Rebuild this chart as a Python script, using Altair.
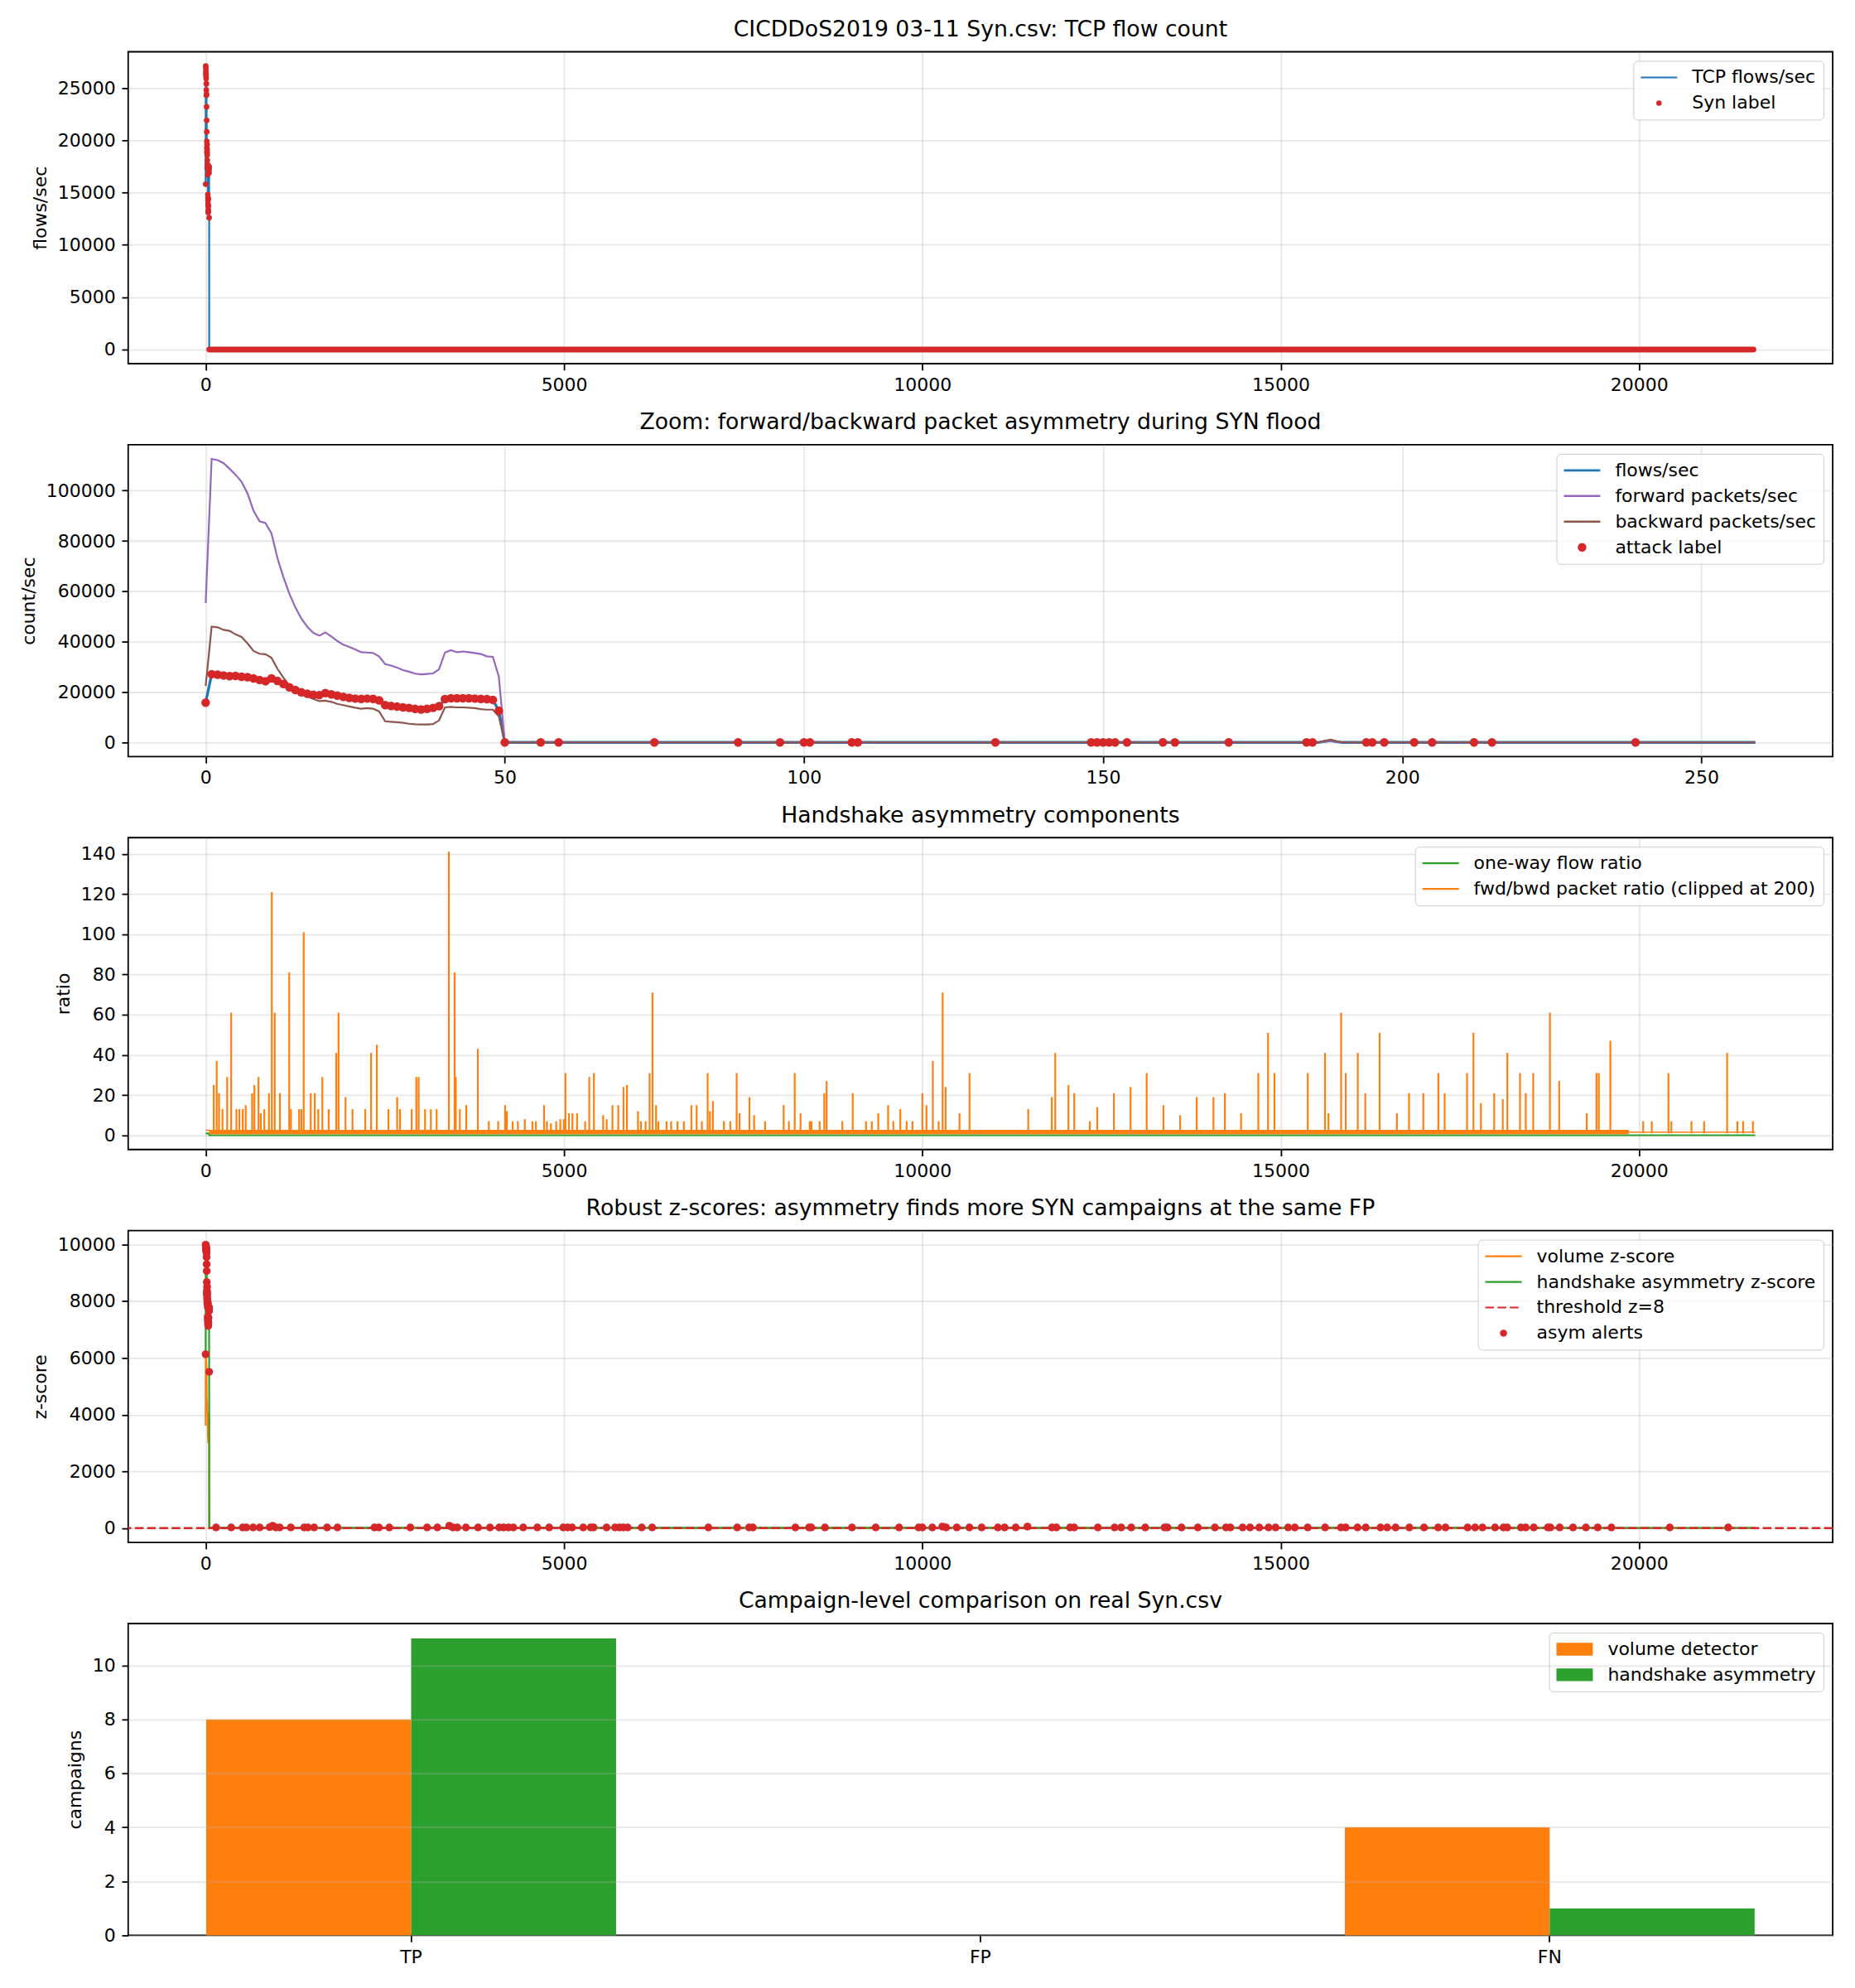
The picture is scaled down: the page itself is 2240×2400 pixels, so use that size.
import altair as alt
import pandas as pd

FONT = "DejaVu Sans"
W, H = 2061, 377
BLUE, ORANGE, GREEN, RED, PURPLE, BROWN = "#1f77b4", "#ff7f0e", "#2ca02c", "#d62728", "#9467bd", "#8c564b"

# ---------------- data ----------------
flood_t = list(range(51))  # seconds 0..50 of the SYN flood
flows = [15800, 27100, 26900, 26600, 26300, 26400, 26100, 25900, 25400, 24800, 24300, 25400, 24400,
         23200, 21900, 20800, 19900, 19300, 18900, 18800, 19600, 19100, 18600, 18100, 17700, 17400,
         17300, 17400, 17300, 16700, 14800, 14500, 14200, 13900, 13700, 13300, 13100, 13300, 13700,
         14400, 17200, 17500, 17500, 17500, 17500, 17400, 17300, 17200, 16900, 12600, 0]
fwd = [55400, 112600, 112100, 110900, 108700, 106300, 103500, 98900, 92000, 87800, 87100, 83000, 73200,
       65600, 59000, 53600, 49100, 45900, 43500, 42400, 43700, 42100, 40300, 38800, 37900, 36900,
       35800, 35700, 35500, 34100, 31100, 30500, 29700, 28700, 28100, 27300, 27000, 27200, 27400,
       29000, 35700, 36600, 35800, 36100, 35800, 35500, 35100, 34200, 34000, 26200, 0]
bwd = [22400, 46000, 45700, 44700, 44300, 42900, 41900, 39300, 36300, 35200, 35000, 33600, 29200,
       25700, 22600, 20200, 19100, 18300, 17300, 16400, 16600, 16100, 15300, 14800, 14300, 13800,
       13400, 13600, 13400, 12300, 8400, 8200, 8000, 7800, 7400, 7200, 7100, 7100, 7300, 8700,
       13900, 14100, 13900, 13900, 13800, 13600, 13200, 13000, 13000, 10400, 0]

# panel 1 tail (after the flood) and the dense Syn-label band
p1_tail_t = [21620]
p1_tail_v = [0]
band_start = [50]
band_end = [21595]
band_v = [0]

# panel 2 tail (zoom window)
zoom_tail_t = [51, 186, 187, 188, 189, 190, 259]
flows_tail = [0, 0, 400, 700, 300, 0, 0]
fwd_tail = [0, 0, 300, 600, 300, 0, 0]
bwd_tail = [0, 0, 600, 1100, 500, 0, 0]
attack_extra_t = [50, 56, 59, 75, 89, 96, 100, 101, 108, 109, 132, 148, 149, 150, 151, 152, 154, 160,
                  162, 171, 184, 185, 194, 195, 197, 202, 205, 212, 215, 239]
attack_extra_v = [0, 0, 0, 0, 0, 0, 0, 0, 0, 0, 0, 0, 0, 0, 0, 0, 0, 0,
                  0, 0, 0, 0, 0, 0, 0, 0, 0, 0, 0, 0]

# panel 3
oneway_t = [0, 49, 50, 21620]
oneway_v = [0.9, 0.9, 0.05, 0.05]
base_t = [0, 49, 50, 19850, 19860, 21620]
base_lo = [2.2, 2.2, 0.6, 0.6, 1.3, 1.3]
base_hi = [2.8, 2.8, 2.7, 2.7, 1.9, 1.9]
spike_t = [113, 154, 186, 235, 300, 356, 429, 470, 518, 559, 648, 680, 737, 769, 818, 883, 923, 964,
           1036, 1166, 1190, 1304, 1336, 1368, 1466, 1522, 1571, 1628, 1717, 1822, 1854, 1951, 2049,
           2227, 2308, 2389, 2550, 2672, 2712, 2874, 2939, 2972, 3061, 3142, 3223, 3393, 3474, 3490,
           3547, 3636, 3797, 3951, 4081, 4178, 4202, 4283, 4356, 4453, 4559, 4607, 4721, 4761, 4818,
           4891, 4948, 4996, 5020, 5069, 5117, 5182, 5295, 5352, 5417, 5546, 5595, 5676, 5757, 5830,
           5878, 6032, 6073, 6138, 6194, 6235, 6284, 6316, 6430, 6494, 6583, 6672, 6777, 6850, 6923,
           7004, 7036, 7077, 7231, 7320, 7409, 7449, 7587, 7652, 7806, 8065, 8138, 8219, 8300, 8429,
           8453, 8567, 8631, 8664, 8883, 9028, 9214, 9295, 9384, 9522, 9595, 9692, 9781, 9862, 10000,
           10057, 10146, 10227, 10283, 10324, 10518, 10658, 11477, 11806, 11854, 12038, 12119, 12336,
           12440, 12672, 12905, 13130, 13363, 13596, 13828, 14061, 14221, 14446, 14687, 14823, 14912,
           15377, 15618, 15666, 15843, 15907, 16075, 16180, 16380, 16621, 16790, 16990, 17199, 17287,
           17600, 17689, 17793, 17978, 18098, 18162, 18339, 18419, 18523, 18756, 18885, 19270, 19406,
           19438, 19599, 20057, 20177, 20410, 20450, 20731, 20907, 21228, 21372, 21452, 21588]
spike_h = [25, 37, 21, 13, 29, 61, 13, 13, 13, 15, 21, 25, 29, 11, 13, 21, 121, 61,
           21, 81, 13, 13, 13, 101, 21, 21, 13, 29, 13, 41, 61, 19, 13,
           13, 41, 45, 13, 19, 13, 13, 29, 29, 13, 13, 13, 141, 81, 29,
           13, 15, 43, 7, 7, 15, 12, 7, 7, 8, 7, 7, 15, 7, 6,
           7, 8, 8, 31, 11, 11, 11, 7, 29, 31, 10, 8, 15, 15, 24,
           25, 12, 7, 7, 31, 71, 15, 7, 7, 7, 7, 7, 15, 15, 7,
           31, 12, 17, 7, 7, 31, 11, 19, 10, 7, 15, 7, 31, 11, 7,
           7, 7, 21, 27, 7, 21, 7, 7, 11, 15, 7, 13, 7, 7, 21,
           15, 37, 7, 71, 24, 11, 31, 13, 19, 41, 25, 21, 7,
           14, 21, 24, 31, 15, 10, 19, 19, 21, 11, 31, 51, 31,
           31, 41, 11, 61, 31, 41, 21, 51, 11, 21, 21, 31, 21,
           31, 51, 16, 21, 18, 41, 31, 21, 31, 61, 27, 11, 31,
           31, 47, 7, 7, 31, 7, 7, 7, 41, 7, 7, 7]
spike_lo = 1.0

# panel 4
vol_z = [3620, 6200, 6150, 6090, 6020, 6050, 5980, 5930, 5820, 5680, 5560, 5820, 5590, 5310, 5020,
         4760, 4560, 4420, 4330, 4300, 4490, 4370, 4260, 4140, 4050, 3980, 3960, 3980, 3960, 3820,
         3390, 3320, 3250, 3180, 3140, 3050, 3000, 3050, 3140, 3300, 3940, 4010, 4010, 4010, 4010,
         3980, 3960, 3940, 3870, 2890, 0]
asym_z = [6130, 9985, 9950, 9920, 9890, 9900, 9870, 9850, 9820, 9780, 9740, 9800, 9700, 9550, 9300,
          9060, 8670, 8360, 8250, 8200, 8500, 8300, 8100, 8050, 7990, 7950, 7920, 7950, 7920, 7800,
          7450, 7400, 7350, 7300, 7250, 7180, 7125, 7180, 7250, 7420, 7750, 7800, 7790, 7780, 7770,
          7760, 7740, 7720, 7650, 5510, 20]
z_tail_t = [21620]
vol_tail_v = [5]
asym_tail_v = [15]
alert_t = [145, 356, 516, 568, 661, 754, 894, 935, 981, 1033, 1188, 1374, 1426, 1513, 1694, 1839,
           2355, 2417, 2562, 2856, 3089, 3233, 3399, 3450, 3512, 3631, 3801, 3967, 4096, 4158, 4225,
           4292, 4431, 4628, 4793, 4989, 5051, 5113, 5268, 5372, 5413, 5594, 5712, 5774, 5826, 5888,
           6084, 6229, 7014, 7417, 7582, 7634, 8228, 8419, 8450, 8641, 9018, 9349, 9675, 9948, 10000,
           10139, 10279, 10331, 10480, 10656, 10827, 11054, 11147, 11302, 11467, 11808, 11870, 12061,
           12118, 12449, 12681, 12774, 12914, 13110, 13379, 13420, 13616, 13844, 14081, 14236, 14298,
           14469, 14572, 14701, 14830, 14928, 15103, 15196, 15376, 15619, 15840, 15907, 16072, 16186,
           16392, 16485, 16603, 16794, 17000, 17196, 17299, 17608, 17712, 17815, 17990, 18108, 18160,
           18351, 18418, 18531, 18727, 18763, 18892, 19078, 19258, 19423, 19614, 20428, 21243]
alert_v = [30, 30, 30, 30, 30, 30, 40, 90, 30, 30, 30, 30, 30, 30, 30, 30,
           30, 30, 30, 30, 30, 30, 90, 30, 30, 30, 30, 30, 30, 30, 30,
           30, 30, 30, 30, 30, 30, 30, 30, 30, 30, 30, 30, 30, 30, 30,
           30, 30, 30, 30, 30, 30, 30, 30, 30, 30, 30, 30, 30, 30, 30,
           30, 60, 30, 30, 30, 30, 30, 30, 30, 60, 30, 30, 30,
           30, 30, 30, 30, 30, 30, 30, 30, 30, 30, 30, 30, 30,
           30, 30, 30, 30, 30, 30, 30, 30, 30, 30, 30, 30, 30,
           30, 30, 30, 30, 30, 30, 30, 30, 30, 30, 30, 30, 30,
           30, 30, 30, 30, 30, 30, 30, 30, 30, 30, 30, 30]
threshold_z = [8]

# panel 5
cats = ["TP", "FP", "FN"]
dets = ["volume detector", "handshake asymmetry"]
vol_counts = [8, 0, 4]
asym_counts = [11, 0, 1]

# ---------------- styling helpers ----------------
K = 5.0  # legend symbol path unit in px (symbolSize 100 -> sqrt/2)
LINE = "M-2.2,0H6.6"
RECT = "M-2.2,-1.54H6.6V1.54H-2.2Z"


def dot_path(d, sw):
    r = max(d - sw, 1.0) / 2 / K
    cx = 2.2
    return (f"M{cx + r:.3f},0A{r:.3f},{r:.3f} 0 1,1 {cx - r:.3f},0"
            f"A{r:.3f},{r:.3f} 0 1,1 {cx + r:.3f},0Z")


def legend(sw, symtype=None):
    kw = dict(title=None, orient="top-right", offset=11, padding=9, rowPadding=9, labelOffset=40,
              symbolSize=100, symbolStrokeWidth=sw, labelFontSize=22, labelFont=FONT,
              labelColor="black", labelLimit=1000, fillColor="#ffffffcc", strokeColor="#cccccc",
              cornerRadius=5)
    if symtype:
        kw["symbolType"] = symtype
    return alt.Legend(**kw)


def xq(field, lo, hi, ticks):
    return alt.X(f"{field}:Q", scale=alt.Scale(domain=[lo, hi], nice=False, zero=False),
                 axis=alt.Axis(values=ticks, format="d", title=None))


def yq(field, lo, hi, ticks, title):
    return alt.Y(f"{field}:Q", scale=alt.Scale(domain=[lo, hi], nice=False, zero=False),
                 axis=alt.Axis(values=ticks, format="d", title=title))


def legend_layer(labels, colors, shapes, leg):
    df = pd.DataFrame({"series": labels})
    return alt.Chart(df).mark_point(filled=True, size=100, opacity=1).encode(
        color=alt.Color("series:N", scale=alt.Scale(domain=labels, range=colors), legend=leg),
        shape=alt.Shape("series:N", scale=alt.Scale(domain=labels, range=shapes), legend=leg),
    ).transform_filter("false")


LONG = (-1081, 22701)
LONG_TICKS = [0, 5000, 10000, 15000, 20000]

# ---------------- panel 1 ----------------
L1 = ["TCP flows/sec", "Syn label"]
C1 = [BLUE, RED]
leg1 = legend(2.2)
col1 = alt.Color("series:N", scale=alt.Scale(domain=L1, range=C1), legend=leg1)
Y1 = yq("v", -1355, 28455, [0, 5000, 10000, 15000, 20000, 25000], "flows/sec")

df1_line = pd.DataFrame({"t": flood_t + p1_tail_t, "v": flows + p1_tail_v, "series": L1[0]})
df1_dots = pd.DataFrame({"t": flood_t[:50], "v": flows[:50], "series": L1[1]})
df1_band = pd.DataFrame({"start": band_start, "end": band_end, "v": band_v, "series": L1[1]})

p1 = alt.layer(
    alt.Chart(df1_line).mark_line(strokeWidth=2.2).encode(x=xq("t", *LONG, LONG_TICKS), y=Y1, color=col1),
    alt.Chart(df1_band).mark_rule(strokeWidth=7, strokeCap="round").encode(
        x=xq("start", *LONG, LONG_TICKS), x2="end", y=Y1, color=col1),
    alt.Chart(df1_dots).mark_circle(size=46, opacity=1).encode(x=xq("t", *LONG, LONG_TICKS), y=Y1, color=col1),
    legend_layer(L1, C1, [LINE, dot_path(6.5, 2.2)], leg1),
).properties(width=W, height=H, title="CICDDoS2019 03-11 Syn.csv: TCP flow count")

# ---------------- panel 2 ----------------
L2 = ["flows/sec", "forward packets/sec", "backward packets/sec", "attack label"]
C2 = [BLUE, PURPLE, BROWN, RED]
leg2 = legend(2.6)
col2 = alt.Color("series:N", scale=alt.Scale(domain=L2, range=C2), legend=leg2)
X2 = xq("t", -12.95, 271.95, [0, 50, 100, 150, 200, 250])
Y2 = yq("v", -5630, 118230, [0, 20000, 40000, 60000, 80000, 100000], "count/sec")

zt = flood_t + zoom_tail_t
df2_flows = pd.DataFrame({"t": zt, "v": flows + flows_tail, "series": L2[0]})
df2_fwd = pd.DataFrame({"t": zt, "v": fwd + fwd_tail, "series": L2[1]})
df2_bwd = pd.DataFrame({"t": zt, "v": bwd + bwd_tail, "series": L2[2]})
df2_dots = pd.DataFrame({"t": flood_t[:50] + attack_extra_t, "v": flows[:50] + attack_extra_v,
                         "series": L2[3]})

p2 = alt.layer(
    alt.Chart(df2_flows).mark_line(strokeWidth=3.3).encode(x=X2, y=Y2, color=col2),
    alt.Chart(df2_fwd).mark_line(strokeWidth=2.2).encode(x=X2, y=Y2, color=col2),
    alt.Chart(df2_bwd).mark_line(strokeWidth=2.2).encode(x=X2, y=Y2, color=col2),
    alt.Chart(df2_dots).mark_circle(size=110, opacity=1).encode(x=X2, y=Y2, color=col2),
    legend_layer(L2, C2, [LINE, LINE, LINE, dot_path(10.5, 2.6)], leg2),
).properties(width=W, height=H, title="Zoom: forward/backward packet asymmetry during SYN flood")

# ---------------- panel 3 ----------------
L3 = ["one-way flow ratio", "fwd/bwd packet ratio (clipped at 200)"]
C3 = [GREEN, ORANGE]
leg3 = legend(2.2, LINE)
col3 = alt.Color("series:N", scale=alt.Scale(domain=L3, range=C3), legend=leg3)
Y3 = yq("v", -7.05, 148.05, [0, 20, 40, 60, 80, 100, 120, 140], "ratio")

df3_one = pd.DataFrame({"t": oneway_t, "v": oneway_v, "series": L3[0]})
df3_base = pd.DataFrame({"t": base_t, "v": base_lo, "hi": base_hi, "series": L3[1]})
df3_spk = pd.DataFrame({"t": spike_t, "v": spike_h, "lo": spike_lo, "series": L3[1]})

p3 = alt.layer(
    alt.Chart(df3_one).mark_line(strokeWidth=2.2).encode(x=xq("t", *LONG, LONG_TICKS), y=Y3, color=col3),
    alt.Chart(df3_base).mark_area(opacity=1).encode(x=xq("t", *LONG, LONG_TICKS), y=Y3, y2="hi", color=col3),
    alt.Chart(df3_spk).mark_rule(strokeWidth=2.2).encode(x=xq("t", *LONG, LONG_TICKS), y=Y3, y2="lo", color=col3),
).properties(width=W, height=H, title="Handshake asymmetry components")

# ---------------- panel 4 ----------------
L4 = ["volume z-score", "handshake asymmetry z-score", "threshold z=8", "asym alerts"]
C4 = [ORANGE, GREEN, RED, RED]
leg4 = legend(2.2)
col4 = alt.Color("series:N", scale=alt.Scale(domain=L4, range=C4), legend=leg4)
Y4 = yq("v", -499, 10484, [0, 2000, 4000, 6000, 8000, 10000], "z-score")
X4 = xq("t", *LONG, LONG_TICKS)

df4_vol = pd.DataFrame({"t": flood_t + z_tail_t, "v": vol_z + vol_tail_v, "series": L4[0]})
df4_asym = pd.DataFrame({"t": flood_t + z_tail_t, "v": asym_z + asym_tail_v, "series": L4[1]})
df4_thr = pd.DataFrame({"v": threshold_z, "series": L4[2]})
df4_dots = pd.DataFrame({"t": flood_t[:50] + alert_t, "v": asym_z[:50] + alert_v, "series": L4[3]})

p4 = alt.layer(
    alt.Chart(df4_vol).mark_line(strokeWidth=2.2).encode(x=X4, y=Y4, color=col4),
    alt.Chart(df4_asym).mark_line(strokeWidth=2.2).encode(x=X4, y=Y4, color=col4),
    alt.Chart(df4_thr).mark_rule(strokeWidth=2.6).encode(
        y=Y4, color=col4,
        strokeDash=alt.StrokeDash("series:N", scale=alt.Scale(
            domain=L4, range=[[1, 0], [1, 0], [10.5, 4.3], [1, 0]]), legend=leg4)),
    alt.Chart(df4_dots).mark_circle(size=90, opacity=1).encode(x=X4, y=Y4, color=col4),
    legend_layer(L4, C4, [LINE, LINE, LINE, dot_path(8.5, 2.2)], leg4),
).properties(width=W, height=H,
             title="Robust z-scores: asymmetry finds more SYN campaigns at the same FP")

# ---------------- panel 5 ----------------
df5 = pd.DataFrame({
    "cat": cats + cats,
    "series": [dets[0]] * 3 + [dets[1]] * 3,
    "n": vol_counts + asym_counts,
})
p5 = alt.Chart(df5).mark_bar().encode(
    x=alt.X("cat:N", sort=cats, scale=alt.Scale(paddingInner=0.28, paddingOuter=0.137),
            axis=alt.Axis(title=None, labelAngle=0, grid=False)),
    xOffset=alt.XOffset("series:N", sort=dets, scale=alt.Scale(domain=dets)),
    y=alt.Y("n:Q", scale=alt.Scale(domain=[0, 11.55], nice=False, zero=True),
            axis=alt.Axis(values=[0, 2, 4, 6, 8, 10], format="d", title="campaigns", zindex=1)),
    color=alt.Color("series:N", scale=alt.Scale(domain=dets, range=[ORANGE, GREEN]),
                    legend=legend(0, RECT)),
).properties(width=W, height=H, title="Campaign-level comparison on real Syn.csv")

chart = alt.vconcat(p1, p2, p3, p4, p5, spacing=98, bounds="flush").resolve_scale(
    color="independent", shape="independent", strokeDash="independent"
).resolve_legend(
    color="independent", shape="independent", strokeDash="independent"
).properties(
    padding={"left": 22, "top": 20, "right": 24, "bottom": 20}
).configure_axis(
    labelFont=FONT, labelFontSize=22, labelColor="black",
    titleFont=FONT, titleFontSize=22, titleFontWeight="normal", titleColor="black", titlePadding=9,
    tickColor="black", tickSize=7.8, tickWidth=1.8, labelPadding=7.8,
    domain=False, grid=True, gridColor="#b0b0b0", gridOpacity=0.3, gridWidth=1.8,
    labelFlush=False, labelOverlap=False,
).configure_view(
    stroke="black", strokeWidth=1.8
).configure_title(
    font=FONT, fontSize=26.7, fontWeight="normal", color="black", offset=13, anchor="middle"
)

chart.save("out.html", embed_options={"renderer": "svg", "actions": False})
